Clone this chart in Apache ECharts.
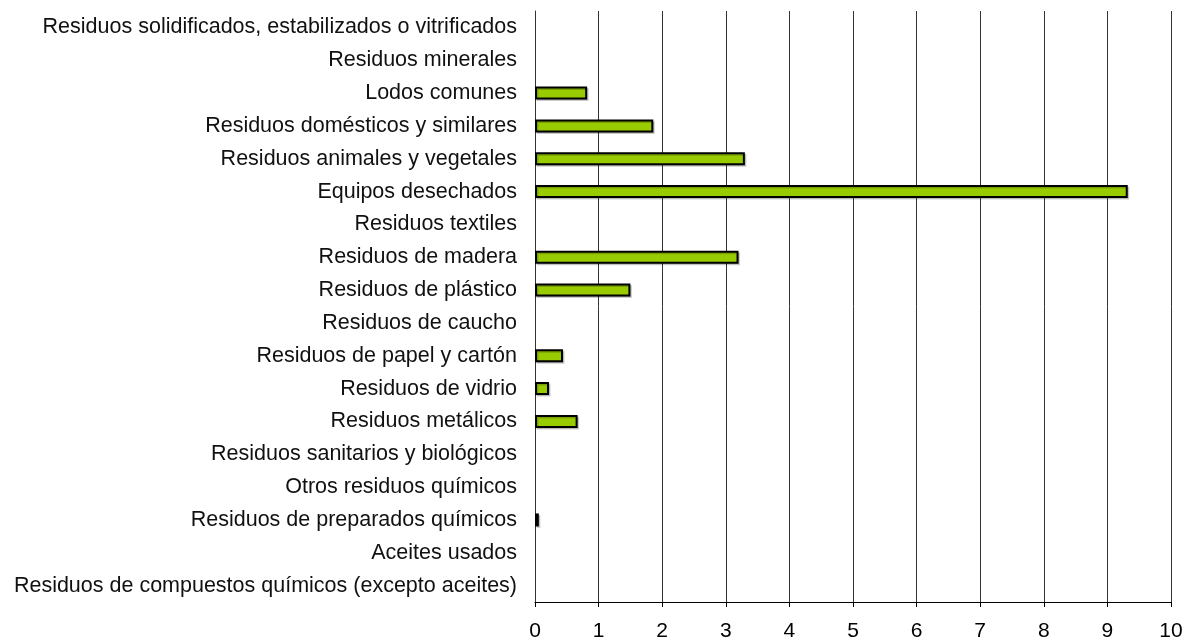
<!DOCTYPE html>
<html>
<head>
<meta charset="utf-8">
<script src="https://cdn.jsdelivr.net/npm/echarts@6/dist/echarts.min.js"></script>
<style>
  html, body { margin: 0; padding: 0; background: #fff; }
  #main { width: 1186px; height: 642px; }
</style>
</head>
<body>
<div id="main"></div>
<script>
// categorías de arriba a abajo
const categories = [
  'Residuos solidificados, estabilizados o vitrificados',
  'Residuos minerales',
  'Lodos comunes',
  'Residuos domésticos y similares',
  'Residuos animales y vegetales',
  'Equipos desechados',
  'Residuos textiles',
  'Residuos de madera',
  'Residuos de plástico',
  'Residuos de caucho',
  'Residuos de papel y cartón',
  'Residuos de vidrio',
  'Residuos metálicos',
  'Residuos sanitarios y biológicos',
  'Otros residuos químicos',
  'Residuos de preparados químicos',
  'Aceites usados',
  'Residuos de compuestos químicos (excepto aceites)'
]
const values = [0, 0, 0.82, 1.86, 3.30, 9.32, 0, 3.20, 1.50, 0, 0.44, 0.22, 0.67, 0, 0, 0.06, 0, 0]
const xTicks = [0, 1, 2, 3, 4, 5, 6, 7, 8, 9, 10]

const chart = echarts.init(document.getElementById('main'))

const font = 'Liberation Sans, Arial, sans-serif'

chart.setOption({
  animation: false,
  grid: { left: 535, right: 15, top: 11, bottom: 39 },
  xAxis: {
    type: 'value',
    min: xTicks[0],
    max: xTicks[xTicks.length - 1],
    interval: 1,
    axisLine: { show: true, lineStyle: { color: '#000', width: 1 } },
    axisTick: { show: true, length: 5, lineStyle: { color: '#000' } },
    axisLabel: { color: '#000', fontSize: 21, fontFamily: font, margin: 19 },
    splitLine: { show: true, lineStyle: { color: '#333', width: 1 } }
  },
  yAxis: {
    type: 'category',
    inverse: true,
    data: categories,
    axisLine: { show: true, lineStyle: { color: '#333', width: 1 } },
    axisTick: { show: false },
    axisLabel: { color: '#111', fontSize: 21.5, fontFamily: font, margin: 18, interval: 0 }
  },
  series: [{
    type: 'bar',
    // los ceros no se dibujan
    data: values.map(v => (v === 0 ? '-' : v)),
    barWidth: 13,
    itemStyle: {
      color: '#99cc00',
      borderColor: '#000',
      borderWidth: 2,
      shadowColor: 'rgba(0,0,0,0.2)',
      shadowOffsetX: 1.5,
      shadowOffsetY: 1.5
    }
  }]
})
</script>
</body>
</html>
